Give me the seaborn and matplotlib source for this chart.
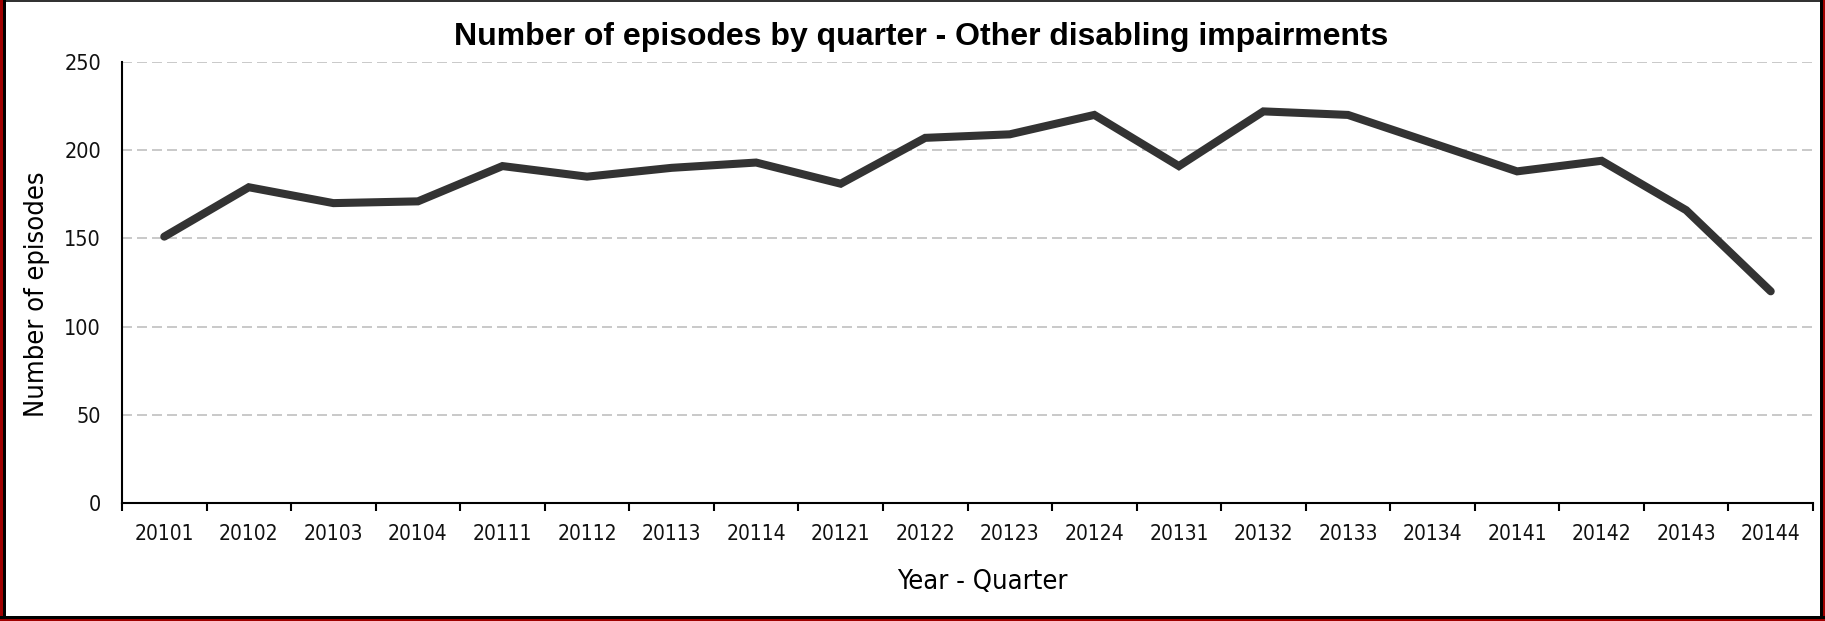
import matplotlib
matplotlib.use("Agg")
import matplotlib.pyplot as plt
from matplotlib.patches import Rectangle
from matplotlib.ticker import FixedLocator
import seaborn as sns
import pandas as pd

quarters = ["20101", "20102", "20103", "20104", "20111", "20112", "20113", "20114",
            "20121", "20122", "20123", "20124", "20131", "20132", "20133", "20134",
            "20141", "20142", "20143", "20144"]
episodes = [151, 179, 170, 171, 191, 185, 190, 193, 181, 207, 209, 220, 191, 222,
            220, 204, 188, 194, 166, 120]
y_ticks = [0, 50, 100, 150, 200, 250]

title = "Number of episodes by quarter - Other disabling impairments"
x_label = "Year - Quarter"
y_label = "Number of episodes"

sns.set_theme(style="white")
plt.rcParams["font.family"] = ["DejaVu Sans"]
plt.rcParams["font.stretch"] = "condensed"

W, H = 1825, 621
fig = plt.figure(figsize=(W / 100, H / 100), dpi=100, facecolor="white")
ax = fig.add_axes([122 / W, 1 - 503 / H, (1813 - 122) / W, (503 - 62) / H])

df = pd.DataFrame({"quarter": quarters, "episodes": episodes})
sns.lineplot(data=df, x="quarter", y="episodes", ax=ax, color="#333333",
             linewidth=5.8, solid_joinstyle="miter", solid_capstyle="round", sort=False)

ax.set_xlim(-0.5, len(quarters) - 0.5)
ax.set_ylim(0, 250)
ax.set_yticks(y_ticks)
ax.set_yticklabels([str(v) for v in y_ticks], fontsize=15.5, color="#111111",
                   fontstretch="condensed")
ax.set_xticks(range(len(quarters)))
ax.set_xticklabels(quarters, fontsize=15, color="#111111", fontstretch="condensed")
ax.xaxis.set_minor_locator(FixedLocator([i - 0.5 for i in range(len(quarters) + 1)]))

ax.tick_params(axis="x", which="major", length=0, pad=15)
ax.tick_params(axis="x", which="minor", length=6, width=1.5, color="black", direction="out", bottom=True)
ax.tick_params(axis="y", length=0, pad=15)

for v in y_ticks[1:]:
    ax.axhline(v, color="#c0c0c0", linewidth=1.2, linestyle=(0, (6, 3)), zorder=0)

for s in ["top", "right"]:
    ax.spines[s].set_visible(False)
for s in ["left", "bottom"]:
    ax.spines[s].set_color("black")
    ax.spines[s].set_linewidth(1.5)
ax.grid(False)

ax.set_xlabel(x_label, fontsize=19.5, color="black", fontstretch="condensed",
              va="center", ha="center")
ax.xaxis.set_label_coords((982 - 122) / 1691, (503 - 582) / 441)
ax.set_ylabel(y_label, fontsize=19.5, color="black", fontstretch="condensed",
              va="center", ha="center")
ax.yaxis.set_label_coords((37 - 122) / 1691, (503 - 294) / 441)

fig.text(0.505, 1 - 37 / H, title, ha="center", va="center", fontsize=23,
         fontweight="bold", family=["Liberation Sans", "DejaVu Sans"], color="black")

def px_rect(x0, y0, w, h, color):
    fig.add_artist(Rectangle((x0 / W, 1 - (y0 + h) / H), w / W, h / H,
                             transform=fig.transFigure, color=color, lw=0, zorder=10))

red = "#a00000"
px_rect(0, 0, W, 2, "#333333")
px_rect(0, 0, 3, H, red)
px_rect(3, 0, 2.5, H, "black")
px_rect(1820, 0, 3, H, "black")
px_rect(1823, 0, 2, H, red)
px_rect(0, 616, W, 3, "black")
px_rect(0, 619, W, 2, red)

fig.savefig("out.png", dpi=100, facecolor="white")
